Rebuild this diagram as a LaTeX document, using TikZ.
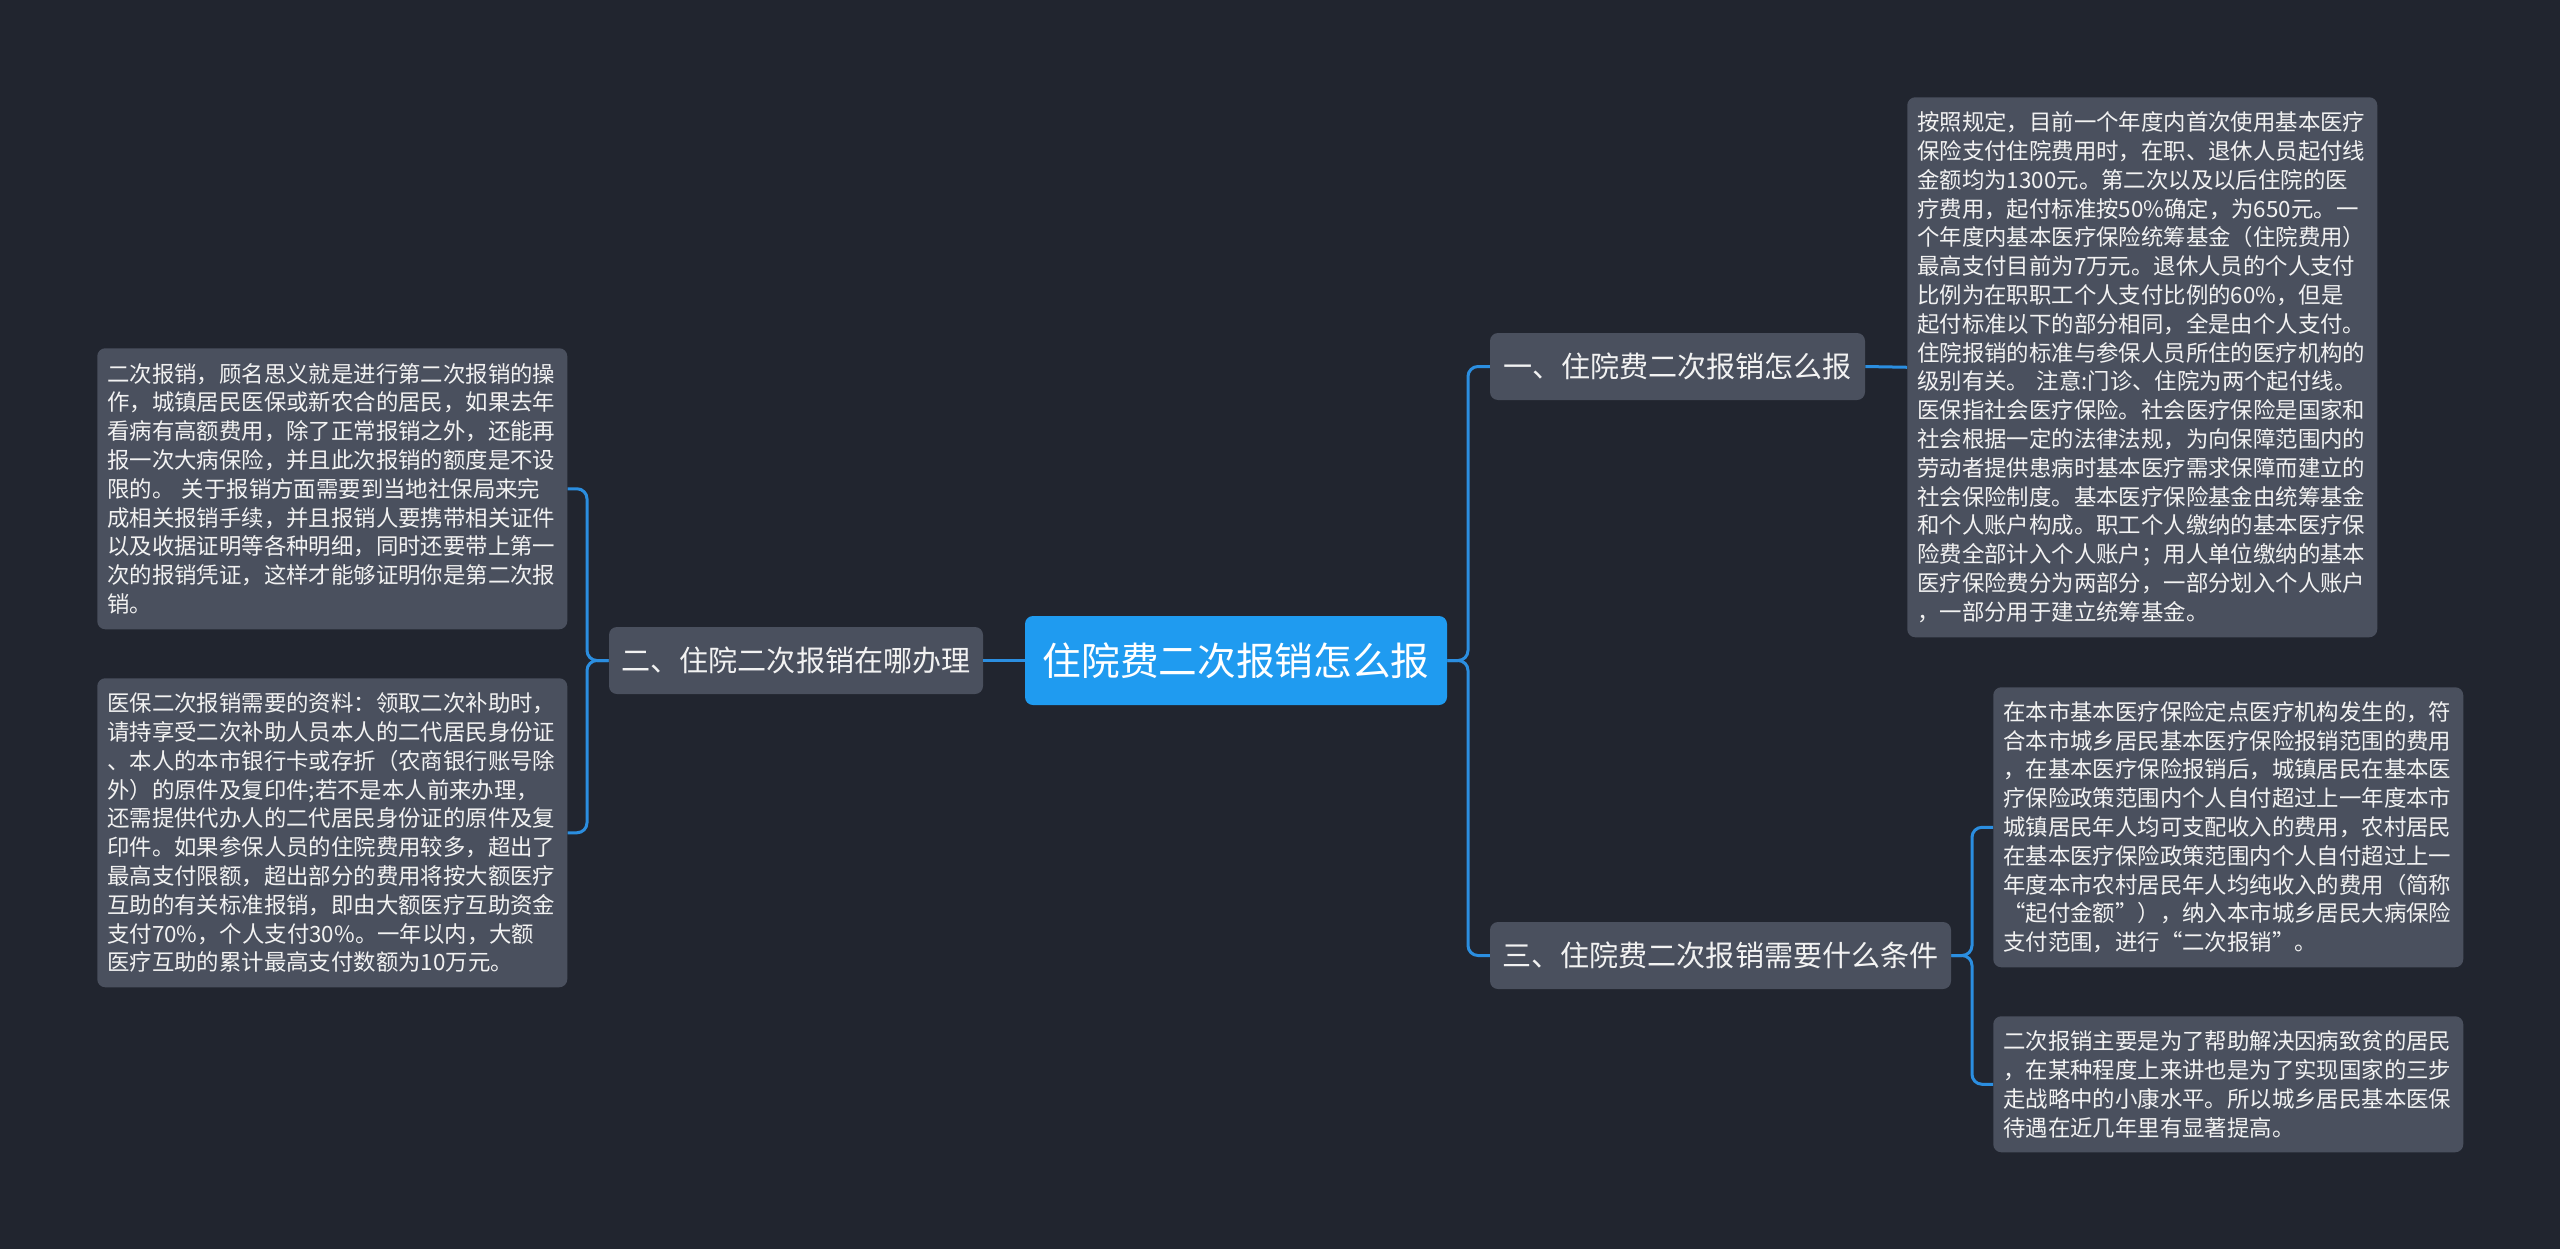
\documentclass[tikz,border=0pt]{standalone}
\usepackage{fontspec}
\setmainfont{Noto Sans CJK SC}
\definecolor{bg}{HTML}{21252F}
\definecolor{boxgray}{HTML}{4A505E}
\definecolor{mainblue}{HTML}{1F9BF0}
\definecolor{linkblue}{HTML}{2B8EE0}
\definecolor{txt}{HTML}{F2F2F2}
\begin{document}
\begin{tikzpicture}[x=0.75pt,y=-0.75pt,
  tbox/.style={fill=boxgray, rounded corners=6pt, anchor=north west, text width=337.5pt,
    inner xsep=7.5pt, inner ysep=0pt, align=left, text=txt,
    font=\fontsize{16.8pt}{21.6pt}\selectfont},
  branch/.style={fill=boxgray, rounded corners=6pt, inner sep=0pt, minimum height=50.25pt,
    text=txt, font=\fontsize{21.8pt}{26pt}\selectfont},
  rootnode/.style={fill=mainblue, rounded corners=6pt, inner sep=0pt, minimum width=316.5pt,
    minimum height=66.75pt, text=white, font=\fontsize{29pt}{34pt}\selectfont},
  link/.style={draw=linkblue, line width=2.25pt, rounded corners=7.5pt}
]
\fill[bg] (0,0) rectangle (2560,1249);
\useasboundingbox (0,0) rectangle (2560,1249);

% root and branches
\node[rootnode] (root) at (1236,660.5) {住院费二次报销怎么报};
\node[branch, minimum width=280.5pt] (L) at (796,660.5) {二、住院二次报销在哪办理};
\node[branch, minimum width=281.25pt] (A) at (1677.5,366.5) {一、住院费二次报销怎么报};
\node[branch, minimum width=345.75pt] (C) at (1720.5,955.5) {三、住院费二次报销需要什么条件};

% text boxes
\node[tbox, minimum height=210.75pt] (LT) at (97,348) {二次报销，顾名思义就是进行第二次报销的操\\
作，城镇居民医保或新农合的居民，如果去年\\
看病有高额费用，除了正常报销之外，还能再\\
报一次大病保险，并且此次报销的额度是不设\\
限的。 关于报销方面需要到当地社保局来完\\
成相关报销手续，并且报销人要携带相关证件\\
以及收据证明等各种明细，同时还要带上第一\\
次的报销凭证，这样才能够证明你是第二次报\\
销。};

\node[tbox, minimum height=231.75pt] (LB) at (97,678) {医保二次报销需要的资料：领取二次补助时，\\
请持享受二次补助人员本人的二代居民身份证\\
、本人的本市银行卡或存折（农商银行账号除\\
外）的原件及复印件;若不是本人前来办理，\\
还需提供代办人的二代居民身份证的原件及复\\
印件。如果参保人员的住院费用较多，超出了\\
最高支付限额，超出部分的费用将按大额医疗\\
互助的有关标准报销，即由大额医疗互助资金\\
支付70\%，个人支付30\%。一年以内，大额\\
医疗互助的累计最高支付数额为10万元。};

\node[tbox, minimum height=405pt] (RT) at (1907,97) {按照规定，目前一个年度内首次使用基本医疗\\
保险支付住院费用时，在职、退休人员起付线\\
金额均为1300元。第二次以及以后住院的医\\
疗费用，起付标准按50\%确定，为650元。一\\
个年度内基本医疗保险统筹基金（住院费用）\\
最高支付目前为7万元。退休人员的个人支付\\
比例为在职职工个人支付比例的60\%，但是\\
起付标准以下的部分相同，全是由个人支付。\\
住院报销的标准与参保人员所住的医疗机构的\\
级别有关。 注意:门诊、住院为两个起付线。\\
医保指社会医疗保险。社会医疗保险是国家和\\
社会根据一定的法律法规，为向保障范围内的\\
劳动者提供患病时基本医疗需求保障而建立的\\
社会保险制度。基本医疗保险基金由统筹基金\\
和个人账户构成。职工个人缴纳的基本医疗保\\
险费全部计入个人账户；用人单位缴纳的基本\\
医疗保险费分为两部分，一部分划入个人账户\\
，一部分用于建立统筹基金。};

\node[tbox, minimum height=210pt] (RM) at (1993,687) {在本市基本医疗保险定点医疗机构发生的，符\\
合本市城乡居民基本医疗保险报销范围的费用\\
，在基本医疗保险报销后，城镇居民在基本医\\
疗保险政策范围内个人自付超过上一年度本市\\
城镇居民年人均可支配收入的费用，农村居民\\
在基本医疗保险政策范围内个人自付超过上一\\
年度本市农村居民年人均纯收入的费用（简称\\
“起付金额”），纳入本市城乡居民大病保险\\
支付范围，进行“二次报销”。};

\node[tbox, minimum height=102pt] (RB) at (1993,1016) {二次报销主要是为了帮助解决因病致贫的居民\\
，在某种程度上来讲也是为了实现国家的三步\\
走战略中的小康水平。所以城乡居民基本医保\\
待遇在近几年里有显著提高。};

% junction coordinates
\coordinate (jl) at (587,660.5);
\coordinate (jr) at (1468,660.5);
\coordinate (jc) at (1972,955.5);

% connectors
\draw[link] (root.west) -- (L.east);
\draw[link] (L.west) -- (jl) |- (LT.east);
\draw[link] (L.west) -- (jl) |- (LB.east);
\draw[link] (root.east) -- (jr) |- (A.west);
\draw[link] (root.east) -- (jr) |- (C.west);
\draw[link] (A.east) -- (RT.west);
\draw[link] (C.east) -- (jc) |- (RM.west);
\draw[link] (C.east) -- (jc) |- (RB.west);
\end{tikzpicture}
\end{document}
